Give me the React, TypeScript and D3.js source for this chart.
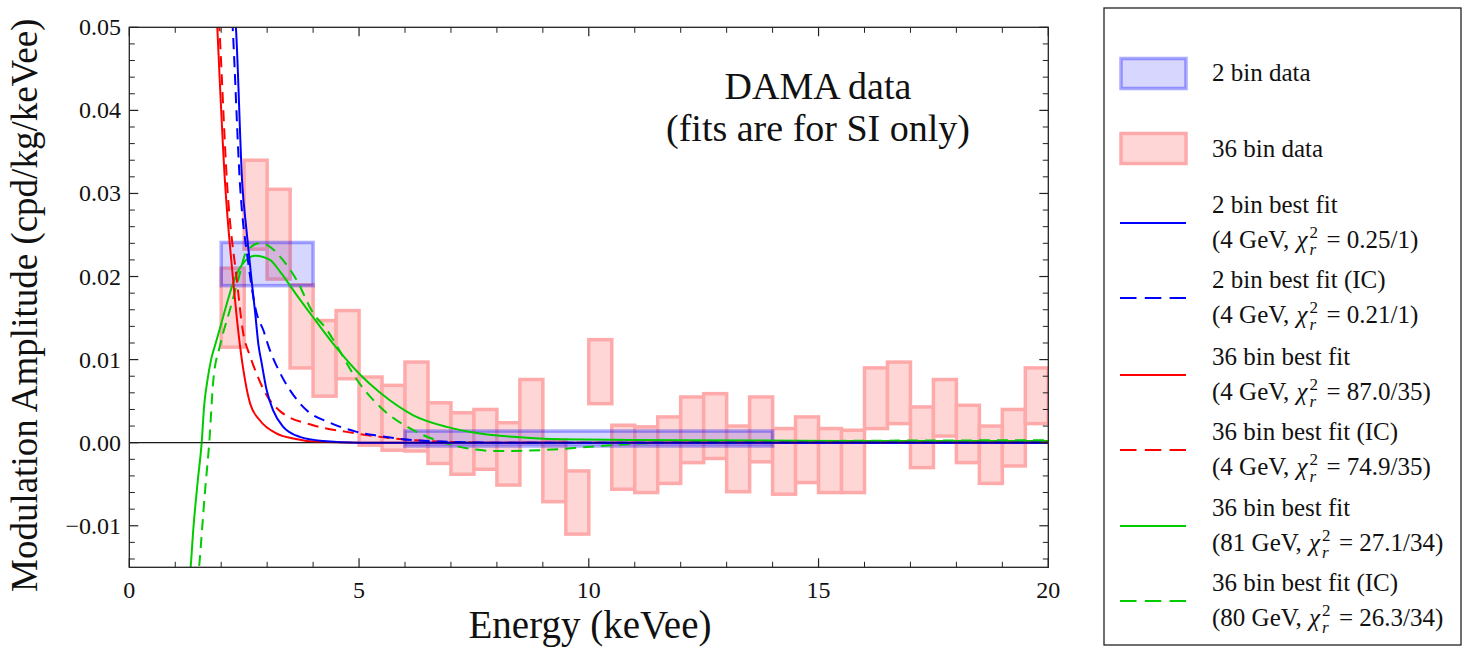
import React from 'react';
import * as d3 from 'd3';

// ---------- DATA ----------
const bin36Start = [2.0, 2.5, 3.0, 3.5, 4.0, 4.5, 5.0, 5.5, 6.0, 6.5, 7.0, 7.5, 8.0, 8.5, 9.0, 9.5, 10.0, 10.5,
  11.0, 11.5, 12.0, 12.5, 13.0, 13.5, 14.0, 14.5, 15.0, 15.5, 16.0, 16.5, 17.0, 17.5, 18.0, 18.5, 19.0, 19.5];
const bin36End = [2.5, 3.0, 3.5, 4.0, 4.5, 5.0, 5.5, 6.0, 6.5, 7.0, 7.5, 8.0, 8.5, 9.0, 9.5, 10.0, 10.5, 11.0,
  11.5, 12.0, 12.5, 13.0, 13.5, 14.0, 14.5, 15.0, 15.5, 16.0, 16.5, 17.0, 17.5, 18.0, 18.5, 19.0, 19.5, 20.0];
const bin36Low = [0.0115, 0.0233, 0.0197, 0.0090, 0.0056, 0.0077, -0.0003, -0.0009, -0.0010, -0.0025, -0.0038, -0.0032,
  -0.0051, 0.0000, -0.0071, -0.0110, 0.0047, -0.0056, -0.0060, -0.0049, -0.0024, -0.0019, -0.0059, -0.0023,
  -0.0062, -0.0048, -0.0060, -0.0060, 0.0017, 0.0023, -0.0030, 0.0008, -0.0024, -0.0049, -0.0028, 0.0023];
const bin36High = [0.0210, 0.0340, 0.0305, 0.0190, 0.0147, 0.0159, 0.0079, 0.0069, 0.0097, 0.0048, 0.0036, 0.0040,
  0.0024, 0.0076, 0.0003, -0.0034, 0.0124, 0.0021, 0.0019, 0.0031, 0.0055, 0.0059, 0.0020, 0.0055,
  0.0017, 0.0031, 0.0017, 0.0015, 0.0090, 0.0097, 0.0043, 0.0076, 0.0045, 0.0020, 0.0040, 0.0090];

const bin2Start = [2.0, 6.0];
const bin2End = [4.0, 14.0];
const bin2Low = [0.0189, -0.0004];
const bin2High = [0.0241, 0.0014];

const blueSolid: [number, number][] = [[2.28, 0.053], [2.32, 0.050], [2.46, 0.031], [2.55, 0.0256], [2.66, 0.0196],
  [2.74, 0.0156], [2.81, 0.0118], [2.88, 0.0096], [2.99, 0.0063], [3.13, 0.0039], [3.35, 0.0019], [3.71, 0.0007],
  [4.22, 0.0002], [5.0, 0.0], [20.0, 0.0]];
const blueDashed: [number, number][] = [[2.22, 0.053], [2.25, 0.050], [2.41, 0.031], [2.59, 0.0216], [2.77, 0.0156],
  [2.92, 0.0135], [3.03, 0.0116], [3.28, 0.0084], [3.5, 0.0063], [3.86, 0.0039], [4.37, 0.0024], [4.95, 0.0013],
  [5.46, 0.0008], [6.18, 0.0003], [7.0, 0.0001], [8.0, 0.0], [20.0, 0.0]];
const redSolid: [number, number][] = [[1.89, 0.053], [1.915, 0.050], [2.08, 0.0316], [2.26, 0.0196], [2.37, 0.0135],
  [2.52, 0.0075], [2.63, 0.0047], [2.84, 0.0027], [3.21, 0.0011], [3.57, 0.0005], [4.08, 0.0001], [5.0, 0.0], [20.0, 0.0]];
const redDashed: [number, number][] = [[1.93, 0.053], [1.96, 0.050], [2.13, 0.031], [2.34, 0.0196], [2.47, 0.0135],
  [2.63, 0.0104], [2.77, 0.0083], [2.95, 0.0061], [3.28, 0.0038], [4.0, 0.0021], [4.73, 0.0013], [5.46, 0.0007],
  [6.18, 0.0003], [6.91, 0.0001], [8.0, 0.0], [20.0, 0.0]];
const greenSolid: [number, number][] = [[1.30, -0.017], [1.335, -0.015], [1.393, -0.0104], [1.488, -0.0047], [1.575, 0.0],
  [1.63, 0.0045], [1.70, 0.0075], [1.78, 0.0100], [1.87, 0.0118], [1.97, 0.0137], [2.05, 0.0153], [2.26, 0.0192],
  [2.45, 0.0214], [2.74, 0.0225], [3.06, 0.0220], [3.28, 0.0206], [3.64, 0.0178], [4.0, 0.0151], [4.51, 0.0114],
  [5.02, 0.0082], [5.46, 0.0060], [6.18, 0.0033], [6.91, 0.0019], [7.63, 0.0011], [8.36, 0.0007], [9.37, 0.0004],
  [12.0, 0.0003], [16.0, 0.0002], [20.0, 0.0002]];
const greenDashed: [number, number][] = [[1.49, -0.017], [1.52, -0.015], [1.65, -0.0057], [1.74, 0.0], [1.83, 0.0076],
  [1.97, 0.0116], [2.19, 0.0160], [2.37, 0.0196], [2.55, 0.0230], [2.83, 0.0240], [3.03, 0.0237], [3.28, 0.0224],
  [3.64, 0.0196], [4.0, 0.0156], [4.3, 0.0136], [4.48, 0.0120], [4.95, 0.0076], [5.46, 0.0043], [6.18, 0.0015],
  [6.91, -0.0001], [8.0, -0.0010], [8.94, -0.0009], [10.03, -0.0005], [11.1, -0.0001], [12.57, 0.0001],
  [15.0, 0.0002], [20.0, 0.0003]];

const xMajorTicks = [0, 5, 10, 15, 20];
const xTickLabels = ['0', '5', '10', '15', '20'];
const xMinorTicks = [1, 2, 3, 4, 6, 7, 8, 9, 11, 12, 13, 14, 16, 17, 18, 19];
const yMajorTicks = [-0.01, 0.0, 0.01, 0.02, 0.03, 0.04, 0.05];
const yTickLabels = ['\u22120.01', '0.00', '0.01', '0.02', '0.03', '0.04', '0.05'];
const yMinorTicks = [-0.014, -0.012, -0.008, -0.006, -0.004, -0.002, 0.002, 0.004, 0.006, 0.008, 0.012, 0.014, 0.016,
  0.018, 0.022, 0.024, 0.026, 0.028, 0.032, 0.034, 0.036, 0.038, 0.042, 0.044, 0.046, 0.048];

const legendLines = [
  { color: '#0000ff', dashed: false, l1: '2 bin best fit', pre: '(4 GeV, ', post: ' = 0.25/1)' },
  { color: '#0000ff', dashed: true, l1: '2 bin best fit (IC)', pre: '(4 GeV, ', post: ' = 0.21/1)' },
  { color: '#ff0000', dashed: false, l1: '36 bin best fit', pre: '(4 GeV, ', post: ' = 87.0/35)' },
  { color: '#ff0000', dashed: true, l1: '36 bin best fit (IC)', pre: '(4 GeV, ', post: ' = 74.9/35)' },
  { color: '#00cc00', dashed: false, l1: '36 bin best fit', pre: '(81 GeV, ', post: ' = 27.1/34)' },
  { color: '#00cc00', dashed: true, l1: '36 bin best fit (IC)', pre: '(80 GeV, ', post: ' = 26.3/34)' },
];

// ---------- LAYOUT ----------
const W = 1466, H = 647;
const L = 129.3, R = 1048.3, T = 27.3, B = 567.3;
const FONT = '"Liberation Serif", "Times New Roman", Times, serif';
const PINK_FILL = 'rgb(255,214,214)';
const PINK_STROKE = 'rgb(255,170,170)';
const BLUE = 'rgb(0,0,255)';

export default function App() {
  const x = d3.scaleLinear().domain([0, 20]).range([L, R]);
  const y = d3.scaleLinear().domain([-0.015, 0.05]).range([B, T]);
  const line = d3.line<[number, number]>().x(d => x(d[0])).y(d => y(d[1])).curve(d3.curveMonotoneX);

  const curves = [
    { d: greenSolid, c: '#00cc00', dash: false },
    { d: greenDashed, c: '#00cc00', dash: true },
    { d: redSolid, c: '#ff0000', dash: false },
    { d: redDashed, c: '#ff0000', dash: true },
    { d: blueSolid, c: '#0000ff', dash: false },
    { d: blueDashed, c: '#0000ff', dash: true },
  ];

  const legendLineY = [223, 298, 375, 450, 526, 601];

  return (
    <svg width={W} height={H} style={{ position: 'absolute', left: 0, top: 0, background: '#fff' }}
      fontFamily={FONT}>
      <defs>
        <clipPath id="plotclip">
          <rect x={L} y={T} width={R - L} height={B - T} />
        </clipPath>
      </defs>
      <rect x={0} y={0} width={W} height={H} fill="#fff" />

      <g clipPath="url(#plotclip)">
        {bin36Start.map((s, i) => (
          <rect key={'p' + i} x={x(s)} y={y(bin36High[i])} width={x(bin36End[i]) - x(s)}
            height={y(bin36Low[i]) - y(bin36High[i])} fill={PINK_FILL} stroke={PINK_STROKE} strokeWidth={3.5} />
        ))}
        {bin2Start.map((s, i) => (
          <rect key={'b' + i} x={x(s)} y={y(bin2High[i])} width={x(bin2End[i]) - x(s)}
            height={y(bin2Low[i]) - y(bin2High[i])} fill={BLUE} fillOpacity={0.16}
            stroke={BLUE} strokeOpacity={0.33} strokeWidth={3.5} />
        ))}
        <line x1={L} x2={R} y1={y(0)} y2={y(0)} stroke="#000" strokeWidth={1} />
        {curves.map((cv, i) => (
          <path key={'c' + i} d={line(cv.d) || ''} fill="none" stroke={cv.c} strokeWidth={2}
            strokeDasharray={cv.dash ? '11,7' : undefined} />
        ))}
        <line x1={L} x2={R} y1={y(0)} y2={y(0)} stroke="#000" strokeOpacity={0.5} strokeWidth={1} />
      </g>

      {/* frame */}
      <rect x={L} y={T} width={R - L} height={B - T} fill="none" stroke="#222" strokeWidth={1.3} />
      {xMajorTicks.map((t, i) => (
        <g key={'xm' + i}>
          <line x1={x(t)} x2={x(t)} y1={B} y2={B - 9} stroke="#222" strokeWidth={1.2} />
          <line x1={x(t)} x2={x(t)} y1={T} y2={T + 9} stroke="#222" strokeWidth={1.2} />
          <text x={x(t)} y={598} textAnchor="middle" fontSize={24} fill="#111">{xTickLabels[i]}</text>
        </g>
      ))}
      {xMinorTicks.map((t, i) => (
        <g key={'xn' + i}>
          <line x1={x(t)} x2={x(t)} y1={B} y2={B - 5.5} stroke="#222" strokeWidth={1} />
          <line x1={x(t)} x2={x(t)} y1={T} y2={T + 5.5} stroke="#222" strokeWidth={1} />
        </g>
      ))}
      {yMajorTicks.map((t, i) => (
        <g key={'ym' + i}>
          <line x1={L} x2={L + 9} y1={y(t)} y2={y(t)} stroke="#222" strokeWidth={1.2} />
          <line x1={R} x2={R - 9} y1={y(t)} y2={y(t)} stroke="#222" strokeWidth={1.2} />
          <text x={121} y={y(t) + 8} textAnchor="end" fontSize={24} fill="#111">{yTickLabels[i]}</text>
        </g>
      ))}
      {yMinorTicks.map((t, i) => (
        <g key={'yn' + i}>
          <line x1={L} x2={L + 5.5} y1={y(t)} y2={y(t)} stroke="#222" strokeWidth={1} />
          <line x1={R} x2={R - 5.5} y1={y(t)} y2={y(t)} stroke="#222" strokeWidth={1} />
        </g>
      ))}

      {/* axis titles */}
      <text x={590} y={638} textAnchor="middle" fontSize={39} fill="#111">Energy (keVee)</text>
      <text transform={`translate(37,${(T + B) / 2 + 8}) rotate(-90)`} textAnchor="middle" fontSize={37} fill="#111">
        Modulation Amplitude (cpd/kg/keVee)
      </text>

      {/* annotation */}
      <text x={818} y={99} textAnchor="middle" fontSize={38} fill="#111">DAMA data</text>
      <text x={818} y={141} textAnchor="middle" fontSize={38} fill="#111">(fits are for SI only)</text>

      {/* legend */}
      <rect x={1104} y={8} width={357} height={637} fill="#fff" stroke="#222" strokeWidth={1.3} />
      <rect x={1121} y={58.5} width={65} height={30} fill={BLUE} fillOpacity={0.16} stroke={BLUE}
        strokeOpacity={0.33} strokeWidth={3.5} />
      <text x={1212} y={81} fontSize={25} fill="#111">2 bin data</text>
      <rect x={1121} y={133.5} width={65} height={30} fill={PINK_FILL} stroke={PINK_STROKE} strokeWidth={3.5} />
      <text x={1212} y={157} fontSize={25} fill="#111">36 bin data</text>
      {legendLines.map((e, i) => {
        const ly = legendLineY[i];
        return (
          <g key={'lg' + i}>
            <line x1={1120} x2={1186} y1={ly} y2={ly} stroke={e.color} strokeWidth={2}
              strokeDasharray={e.dashed ? '16.5,8.3' : undefined} />
            <text x={1212} y={ly - 10} fontSize={25} fill="#111">{e.l1}</text>
            <text x={1212} y={ly + 25} fontSize={25} fill="#111">
              {e.pre}
              <tspan fontStyle="italic" dx={1}>{'\u03c7'}</tspan>
              <tspan fontSize={17} dy={-10} dx={2}>2</tspan>
              <tspan fontSize={17} fontStyle="italic" dy={17} dx={-8.5}>r</tspan>
              <tspan dy={-7} dx={4}>{e.post}</tspan>
            </text>
          </g>
        );
      })}
    </svg>
  );
}
